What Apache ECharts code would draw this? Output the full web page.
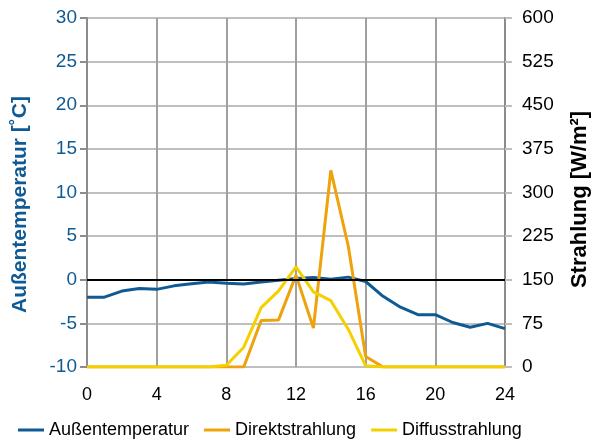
<!DOCTYPE html>
<html>
<head>
<meta charset="utf-8">
<script src="https://cdn.jsdelivr.net/npm/echarts@6/dist/echarts.min.js"></script>
<style>
  html, body { margin: 0; padding: 0; background: #fff; }
  #chart { width: 595px; height: 444px; }
</style>
</head>
<body>
<div id="chart"></div>
<script>
// Hourly values over one day (hour 0..24)
const hours = [0,1,2,3,4,5,6,7,8,9,10,11,12,13,14,15,16,17,18,19,20,21,22,23,24];
const aussentemperatur = [-2.0,-2.0,-1.3,-1.0,-1.1,-0.7,-0.45,-0.25,-0.4,-0.5,-0.25,-0.05,0.15,0.25,0.05,0.3,-0.2,-1.9,-3.15,-4.0,-4.0,-4.9,-5.45,-5.0,-5.6];
const direktstrahlung = [0,0,0,0,0,0,0,0,0,0,80,81,158,67,338,208,18,0,0,0,0,0,0,0,0];
const diffusstrahlung = [0,0,0,0,0,0,0,0,3,34,102,131,172,129,114,65,2,0,0,0,0,0,0,0,0];

const tempTicks = [-10, 30, 5];      // min, max, step
const strahlTicks = [0, 600, 75];
const hourTicks = [0, 24, 4];

const blue = '#105a94';
const orange = '#eea20b';
const yellow = '#f5d000';
const font = 'Liberation Sans, Arial, sans-serif';

const pairs = vals => hours.map((h, i) => [h, vals[i]]);

const chart = echarts.init(document.getElementById('chart'), null, { renderer: 'canvas' });
chart.setOption({
  animation: false,
  grid: { left: 87, right: 90, top: 18, bottom: 77, containLabel: false, outerBoundsMode: 'none' },
  legend: {
    left: 13, top: 416,
    itemWidth: 26, itemHeight: 3, itemGap: 15,
    icon: 'rect',
    textStyle: { fontFamily: font, fontSize: 18, color: '#000' },
    data: ['Außentemperatur', 'Direktstrahlung', 'Diffusstrahlung']
  },
  xAxis: {
    type: 'value',
    min: hourTicks[0], max: hourTicks[1], interval: hourTicks[2],
    axisLine: { show: false, onZero: false },
    axisTick: { show: false },
    axisLabel: { fontFamily: font, fontSize: 18, color: '#000', margin: 19 },
    splitLine: { show: true, lineStyle: { color: '#a0a0a0', width: 2 } }
  },
  yAxis: [
    {
      type: 'value',
      min: tempTicks[0], max: tempTicks[1], interval: tempTicks[2],
      name: 'Außentemperatur [˚C]',
      nameLocation: 'middle', nameRotate: 90, nameGap: 56,
      nameTextStyle: { fontFamily: font, fontSize: 21, fontWeight: 'bold', color: blue, padding: [0, 24, 0, 0] },
      axisLine: { show: true, lineStyle: { color: '#8c8c8c', width: 2 } },
      axisTick: { show: true, length: 7, lineStyle: { color: '#8c8c8c', width: 2 } },
      axisLabel: { fontFamily: font, fontSize: 19, color: blue, margin: 10 },
      splitLine: { show: true, lineStyle: { color: '#bfbfbf', width: 2 } }
    },
    {
      type: 'value',
      min: strahlTicks[0], max: strahlTicks[1], interval: strahlTicks[2],
      name: 'Strahlung [W/m²]',
      nameLocation: 'middle', nameRotate: 90, nameGap: 64,
      nameTextStyle: { fontFamily: font, fontSize: 22, fontWeight: 'bold', color: '#000', padding: [0, 14, 0, 0] },
      axisLine: { show: true, lineStyle: { color: '#8c8c8c', width: 2 } },
      axisTick: { show: true, length: 7, lineStyle: { color: '#bfbfbf', width: 2 } },
      axisLabel: { fontFamily: font, fontSize: 19, color: '#000', margin: 17 },
      splitLine: { show: false }
    }
  ],
  series: [
    {
      name: 'Außentemperatur', type: 'line', yAxisIndex: 0,
      data: pairs(aussentemperatur),
      showSymbol: false, color: blue,
      lineStyle: { width: 3, color: blue },
      markLine: {
        silent: true, symbol: 'none', label: { show: false },
        lineStyle: { color: '#000', width: 2, type: 'solid' },
        data: [{ yAxis: 0 }]
      }
    },
    {
      name: 'Direktstrahlung', type: 'line', yAxisIndex: 1,
      data: pairs(direktstrahlung),
      showSymbol: false, color: orange,
      lineStyle: { width: 3, color: orange }
    },
    {
      name: 'Diffusstrahlung', type: 'line', yAxisIndex: 1,
      data: pairs(diffusstrahlung),
      showSymbol: false, color: yellow,
      lineStyle: { width: 3, color: yellow }
    }
  ]
});
</script>
</body>
</html>
